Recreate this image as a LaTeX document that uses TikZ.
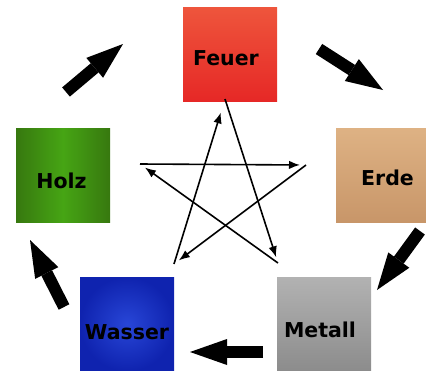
\documentclass[tikz,border=0pt]{standalone}
\usepackage{fontspec}
\setsansfont{DejaVu Sans}
\usetikzlibrary{arrows.meta}
\definecolor{feuerhell}{RGB}{238,85,60}
\definecolor{feuerrot}{RGB}{230,40,38}
\definecolor{holzhell}{RGB}{70,165,20}
\definecolor{holzdunkel}{RGB}{55,120,15}
\definecolor{erdehell}{RGB}{222,178,132}
\definecolor{erdedunkel}{RGB}{200,150,105}
\definecolor{wasserhell}{RGB}{40,70,215}
\definecolor{wasserdunkel}{RGB}{15,35,175}
\definecolor{metallhell}{RGB}{178,178,178}
\definecolor{metalldunkel}{RGB}{140,140,140}
\tikzset{elemnode/.style={shape=rectangle, minimum size=94pt, inner sep=0pt},
  every label/.append style={font=\sffamily\bfseries\fontsize{20.5}{24}\selectfont, text=black},
  sheng/.style={every edge/.append style={line width=12pt, -{Triangle[length=37pt, width=26pt, line width=0pt]}}},
  ke/.style={every edge/.append style={line width=1.6pt, -{Latex[length=11pt, width=8.5pt]}}}}

\begin{document}
\begin{tikzpicture}[x=1pt, y=-1pt]
    \useasboundingbox (0,0) rectangle (426,370);
    \node (feuer) [elemnode, top color=feuerhell, bottom color=feuerrot,
      label={[xshift=-4pt, yshift=-3.5pt]center:Feuer}] at (230,54.5) {};
    \node (holz) [elemnode, left color=holzdunkel, right color=holzdunkel, middle color=holzhell,
      label={[xshift=-1.5pt, yshift=-5.5pt]center:Holz}] at (63,175) {};
    \node (erde) [elemnode, top color=erdehell, bottom color=erdedunkel,
      label={[xshift=4.5pt, yshift=-2.5pt]center:Erde}] at (383,175) {};
    \node (wasser) [elemnode, inner color=wasserhell, outer color=wasserdunkel,
      label={[yshift=-8.5pt]center:Wasser}] at (127,324) {};
    \node (metall) [elemnode, top color=metallhell, bottom color=metalldunkel,
      label={[xshift=-4pt, yshift=-5.5pt]center:Metall}] at (324,324) {};

    % outer cycle
    \coordinate (holz-out) at (66,92);
    \coordinate (feuer-in) at (123,44);
    \coordinate (feuer-out) at (319,49);
    \coordinate (erde-in) at (383,90);
    \coordinate (erde-out) at (420,231);
    \coordinate (metall-in) at (377,290);
    \coordinate (metall-out) at (263,352);
    \coordinate (wasser-in) at (190,352);
    \coordinate (wasser-out) at (64,307);
    \coordinate (holz-in) at (30,240);
    \draw[sheng]
    (holz-out) edge (feuer-in)
    (feuer-out) edge (erde-in)
    (erde-out) edge (metall-in)
    (metall-out) edge (wasser-in)
    (wasser-out) edge (holz-in);

    % star
    \coordinate (s-feuer) at (225,99);
    \coordinate (s-erde) at (306,165);
    \coordinate (s-metall) at (278,263);
    \coordinate (s-wasser) at (174,264);
    \coordinate (s-holz) at (140,164);
    \draw[ke]
    (s-feuer) edge[shorten >=6pt] (s-metall)
    (s-holz) edge[shorten >=6pt] (s-erde)
    (s-erde) edge[shorten >=6pt] (s-wasser)
    (s-wasser) edge[shorten >=14pt] (s-feuer)
    (s-metall) edge[shorten >=6pt] (s-holz);
  \end{tikzpicture}
\end{document}
